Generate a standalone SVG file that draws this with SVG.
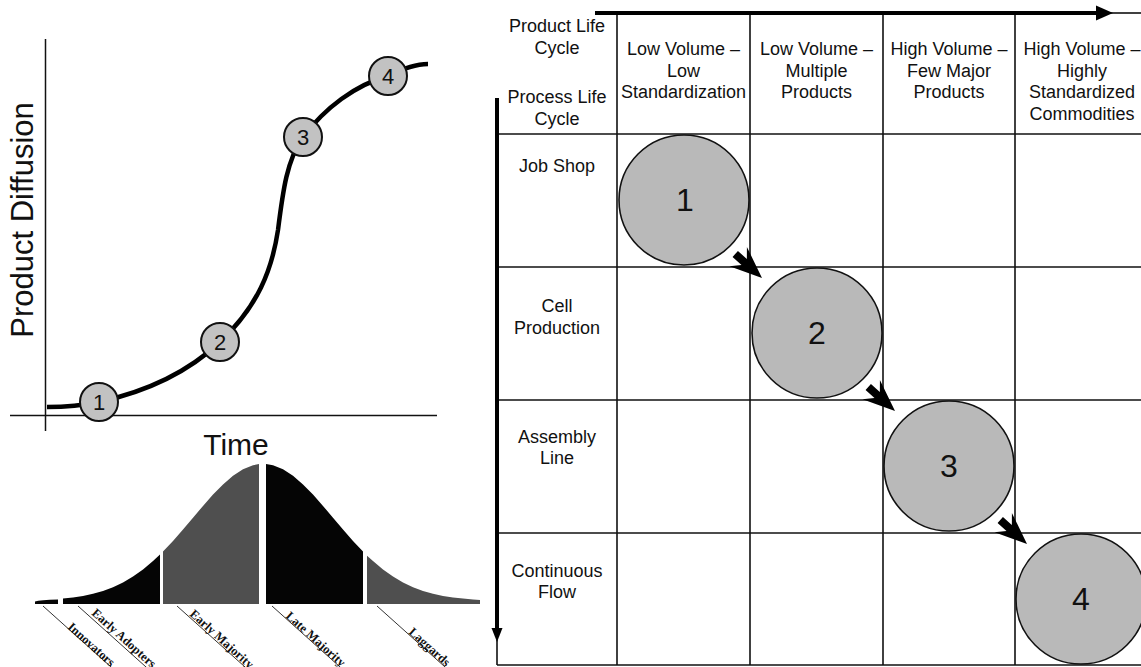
<svg xmlns="http://www.w3.org/2000/svg" width="1141" height="667" viewBox="0 0 1141 667">
  <style>
    .sans { font-family: "Liberation Sans", Arial, sans-serif; fill: #111; }
    .hdr { font-size: 18px; text-anchor: middle; }
    .big { font-size: 32px; text-anchor: middle; }
    .small-num { font-size: 22px; text-anchor: middle; }
    .grid { stroke: #111; stroke-width: 1.6; fill: none; }
    .stage { fill: #b9b9b9; stroke: #111; stroke-width: 1.6; }
    .dot { fill: #c2c2c2; stroke: #111; stroke-width: 2; }
    .seg-dark { fill: #050505; }
    .seg-grey { fill: #4f4f4f; }
    .lbl-line { stroke: #333; stroke-width: 1; }
    .lbl { font-family: "Liberation Serif", "Times New Roman", serif; font-weight: bold; font-size: 12.5px; fill: #111; }
  </style>
  <defs>
    <path id="step-arrow" d="M0,0 L-32,-13 L-24,-4 L-36,-4 L-36,4 L-24,4 L-32,13 Z" fill="#000"/>
  </defs>

  <rect width="1141" height="667" fill="#fff"/>

  <!-- S-curve: product diffusion over time -->
  <g id="diffusion-chart">
    <line x1="45.5" y1="39" x2="45.5" y2="431" stroke="#111" stroke-width="1.5"/>
    <line x1="10" y1="415.5" x2="437" y2="415.5" stroke="#111" stroke-width="1.5"/>
    <text class="sans" font-size="31" text-anchor="middle" transform="translate(33,220) rotate(-90)">Product Diffusion</text>
    <text class="sans" font-size="30" text-anchor="middle" x="236" y="455">Time</text>
    <path d="M47,407 C70,407 85,405 99,402 C140,393 185,375 220,342 C258,306 272,270 278,230 C283,190 287,160 303,137 C325,108 355,85 388,76 C400,70 415,64 428,64" fill="none" stroke="#000" stroke-width="4.5"/>
    <g id="dot-1"><circle class="dot" cx="99" cy="402" r="19"/><text class="sans small-num" x="99" y="410">1</text></g>
    <g id="dot-2"><circle class="dot" cx="220" cy="342" r="19"/><text class="sans small-num" x="220" y="350">2</text></g>
    <g id="dot-3"><circle class="dot" cx="303" cy="137" r="19"/><text class="sans small-num" x="303" y="145">3</text></g>
    <g id="dot-4"><circle class="dot" cx="388" cy="76" r="19"/><text class="sans small-num" x="388" y="84">4</text></g>
  </g>

  <!-- Adoption bell curve -->
  <g id="adoption-curve">
    <path class="seg-dark" d="M35,604 L35,601.5 Q40,600 58,599.5 L58,604 Z"/>
    <path class="seg-dark" d="M63,604 L63,598.6 L73,597.5 L83,596 L93,593.8 L103,590.9 L113,587.2 L123,582.5 L133,576.5 L143,569.5 L153,561.1 L160,554.5 L160,604 Z"/>
    <path class="seg-grey" d="M163,604 L163,551.6 L173,541 L183,529.6 L193,517.8 L203,505.9 L213,494.6 L223,484.4 L233,475.8 L243,469.2 L253,465.2 L259,464.1 L259,604 Z"/>
    <path class="seg-dark" d="M266,604 L266,464 L273,465.2 L283,469.2 L293,475.8 L303,484.4 L313,494.6 L323,505.9 L333,517.8 L343,529.6 L353,541 L363,551.6 L363,604 Z"/>
    <path class="seg-grey" d="M367,604 L367,555.7 L373,561.1 L383,569.5 L393,576.5 L403,582.5 L413,587.2 L423,590.9 L433,593.8 L443,596 L453,597.5 L463,598.6 L473,599.4 L480,599.9 L480,604 Z"/>

    <line class="lbl-line" x1="43" y1="606" x2="130" y2="684"/>
    <line class="lbl-line" x1="78" y1="606" x2="165" y2="684"/>
    <line class="lbl-line" x1="177" y1="606" x2="264" y2="684"/>
    <line class="lbl-line" x1="272" y1="606" x2="359" y2="684"/>
    <line class="lbl-line" x1="377" y1="606" x2="464" y2="684"/>

    <text class="lbl" transform="translate(67,628) rotate(42)">Innovators</text>
    <text class="lbl" transform="translate(91,614) rotate(42)">Early Adopters</text>
    <text class="lbl" transform="translate(189,615) rotate(42)">Early Majority</text>
    <text class="lbl" transform="translate(285,617) rotate(42)">Late Majority</text>
    <text class="lbl" transform="translate(408,633) rotate(42)">Laggards</text>
  </g>

  <!-- Product-process matrix frame -->
  <g id="matrix-grid">
    <line class="grid" x1="497" y1="134" x2="1141" y2="134"/>
    <line class="grid" x1="497" y1="267" x2="1141" y2="267"/>
    <line class="grid" x1="497" y1="400" x2="1141" y2="400"/>
    <line class="grid" x1="497" y1="533" x2="1141" y2="533"/>
    <line class="grid" x1="497" y1="665" x2="1141" y2="665"/>
    <line class="grid" x1="617" y1="13" x2="617" y2="665"/>
    <line class="grid" x1="750" y1="13" x2="750" y2="665"/>
    <line class="grid" x1="883" y1="13" x2="883" y2="665"/>
    <line class="grid" x1="1015" y1="13" x2="1015" y2="665"/>
    <line class="grid" x1="497" y1="640" x2="497" y2="665"/>
    <line class="grid" x1="1110" y1="13" x2="1141" y2="13"/>
  </g>

  <g id="axis-arrows">
    <line x1="595" y1="13" x2="1100" y2="13" stroke="#000" stroke-width="4"/>
    <path d="M1113,13 L1096,5.5 L1096,20.5 Z" fill="#000"/>
    <line x1="497" y1="98" x2="497" y2="630" stroke="#000" stroke-width="4"/>
    <path d="M497,642 L491.5,628 L502.5,628 Z" fill="#000"/>
  </g>

  <!-- Header labels -->
  <g id="header-corner" class="sans hdr">
    <text x="557" y="32">Product Life</text>
    <text x="557" y="54">Cycle</text>
    <text x="557" y="103">Process Life</text>
    <text x="557" y="125">Cycle</text>
  </g>
  <g id="col-1" class="sans hdr">
    <text x="683.5" y="55">Low Volume –</text>
    <text x="683.5" y="76.5">Low</text>
    <text x="683.5" y="98">Standardization</text>
  </g>
  <g id="col-2" class="sans hdr">
    <text x="816.5" y="55">Low Volume –</text>
    <text x="816.5" y="76.5">Multiple</text>
    <text x="816.5" y="98">Products</text>
  </g>
  <g id="col-3" class="sans hdr">
    <text x="949" y="55">High Volume –</text>
    <text x="949" y="76.5">Few Major</text>
    <text x="949" y="98">Products</text>
  </g>
  <g id="col-4" class="sans hdr">
    <text x="1082" y="55">High Volume –</text>
    <text x="1082" y="76.5">Highly</text>
    <text x="1082" y="98">Standardized</text>
    <text x="1082" y="119.5">Commodities</text>
  </g>

  <g id="row-1" class="sans hdr"><text x="557" y="172">Job Shop</text></g>
  <g id="row-2" class="sans hdr"><text x="557" y="312">Cell</text><text x="557" y="334">Production</text></g>
  <g id="row-3" class="sans hdr"><text x="557" y="443">Assembly</text><text x="557" y="464">Line</text></g>
  <g id="row-4" class="sans hdr"><text x="557" y="577">Continuous</text><text x="557" y="598">Flow</text></g>

  <!-- Stage circles on the diagonal -->
  <g id="stage-1"><circle class="stage" cx="684" cy="200" r="65"/><text class="sans big" x="685" y="211">1</text></g>
  <g id="stage-2"><circle class="stage" cx="817" cy="333" r="65"/><text class="sans big" x="817" y="344">2</text></g>
  <g id="stage-3"><circle class="stage" cx="949" cy="466" r="65"/><text class="sans big" x="949" y="477">3</text></g>
  <g id="stage-4"><circle class="stage" cx="1081" cy="599" r="65"/><text class="sans big" x="1081" y="610">4</text></g>

  <g id="connectors">
    <use href="#step-arrow" transform="translate(762,278) rotate(42)"/>
    <use href="#step-arrow" transform="translate(895,411) rotate(42)"/>
    <use href="#step-arrow" transform="translate(1027,544) rotate(42)"/>
  </g>
</svg>
